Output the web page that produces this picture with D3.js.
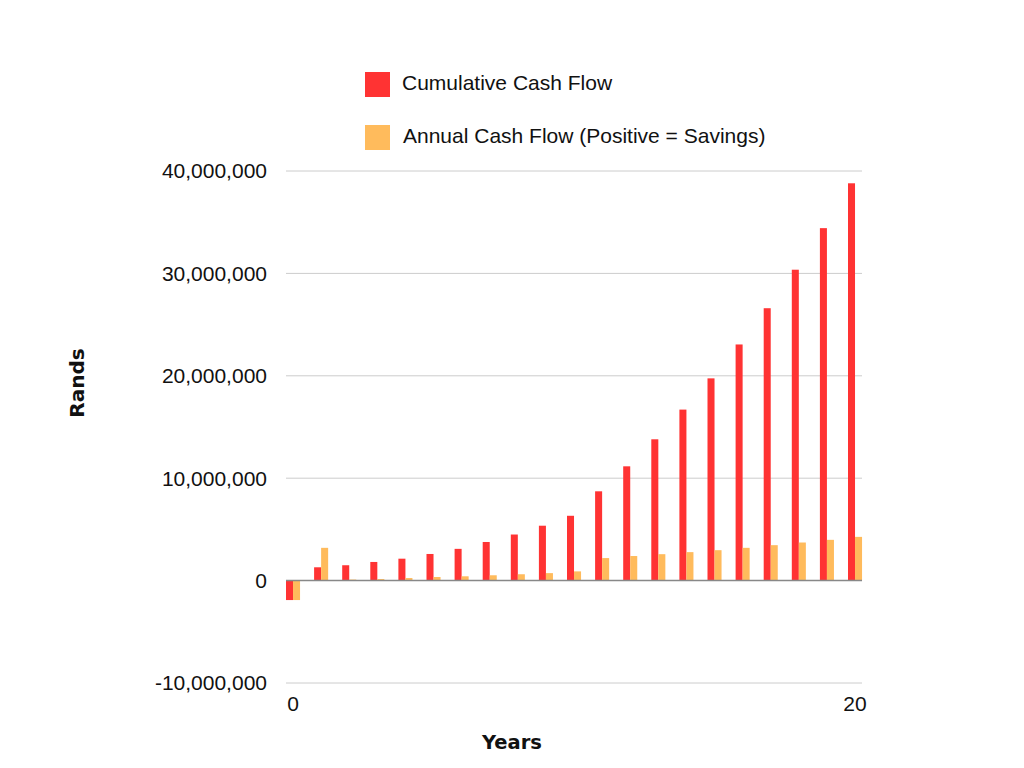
<!DOCTYPE html>
<html>
<head>
<meta charset="utf-8">
<script src="https://cdn.jsdelivr.net/npm/d3@7"></script>
<style>
  html, body { margin: 0; padding: 0; background: #fff; }
  svg { display: block; }
</style>
</head>
<body>
<svg id="chart" width="1024" height="768"></svg>
<script>
// ---- data ----
const years = [0,1,2,3,4,5,6,7,8,9,10,11,12,13,14,15,16,17,18,19,20];
const cumulative = [-1900000, 1300000, 1500000, 1820000, 2140000, 2600000, 3100000, 3770000, 4500000, 5360000, 6330000,
                    8720000, 11160000, 13800000, 16700000, 19750000, 23060000, 26600000, 30360000, 34420000, 38800000];
const annual = [-1900000, 3200000, 100000, 150000, 250000, 350000, 420000, 520000, 620000, 730000, 900000,
                2200000, 2400000, 2580000, 2780000, 2970000, 3200000, 3460000, 3720000, 3980000, 4270000];
const yTicks = [-10000000, 0, 10000000, 20000000, 30000000, 40000000];
const xTickLabels = [0, 20];
const seriesNames = ["Cumulative Cash Flow", "Annual Cash Flow (Positive = Savings)"];
const seriesColors = ["#ff3333", "#ffbb5c"];

// ---- layout ----
const svg = d3.select("#chart");
const plotLeft = 286, plotRight = 862, plotTop = 171, plotBottom = 683;

const x = d3.scaleBand().domain(years).range([plotLeft, plotLeft + 21 * 28.1]).padding(0);
const bw = x.bandwidth() * 0.25;
const y = d3.scaleLinear().domain([-10000000, 40000000]).range([plotBottom, plotTop]);

const fmt = d => d3.format(",")(d).replace("\u2212", "-");

// gridlines
svg.append("g").selectAll("line").data(yTicks.filter(d => d !== 0)).join("line")
  .attr("x1", plotLeft).attr("x2", plotRight)
  .attr("y1", d => y(d)).attr("y2", d => y(d))
  .attr("stroke", "#cccccc").attr("stroke-width", 1);

// y tick labels
svg.append("g").selectAll("text").data(yTicks).join("text")
  .attr("x", 267).attr("y", d => y(d)).attr("dy", "0.35em")
  .attr("text-anchor", "end")
  .attr("font-family", "'Liberation Sans', Arial, sans-serif")
  .attr("font-size", 21).attr("fill", "#111")
  .text(d => fmt(d));

// bars
const bars = svg.append("g");
bars.selectAll("rect.cum").data(years).join("rect")
  .attr("class", "cum")
  .attr("x", d => x(d)).attr("width", bw)
  .attr("y", (d, i) => y(Math.max(0, cumulative[i])))
  .attr("height", (d, i) => Math.abs(y(cumulative[i]) - y(0)))
  .attr("fill", seriesColors[0]);
bars.selectAll("rect.ann").data(years).join("rect")
  .attr("class", "ann")
  .attr("x", d => x(d) + bw).attr("width", bw)
  .attr("y", (d, i) => y(Math.max(0, annual[i])))
  .attr("height", (d, i) => Math.abs(y(annual[i]) - y(0)))
  .attr("fill", seriesColors[1]);

// zero line
svg.append("line")
  .attr("x1", plotLeft).attr("x2", plotRight)
  .attr("y1", y(0)).attr("y2", y(0))
  .attr("stroke", "#888888").attr("stroke-width", 1.5);

// x tick labels
svg.append("g").selectAll("text").data(xTickLabels).join("text")
  .attr("x", d => x(d) + bw).attr("y", 711)
  .attr("text-anchor", "middle")
  .attr("font-family", "'Liberation Sans', Arial, sans-serif")
  .attr("font-size", 21).attr("fill", "#111")
  .text(d => d);

// axis titles
svg.append("text")
  .attr("x", 512).attr("y", 749)
  .attr("text-anchor", "middle")
  .attr("font-family", "'DejaVu Sans', sans-serif")
  .attr("font-weight", "bold")
  .attr("font-size", 19.5).attr("fill", "#111")
  .text("Years");
svg.append("text")
  .attr("transform", "translate(84,383) rotate(-90)")
  .attr("text-anchor", "middle")
  .attr("font-family", "'DejaVu Sans', sans-serif")
  .attr("font-weight", "bold")
  .attr("font-size", 20).attr("fill", "#111")
  .text("Rands");

// legend
const legend = svg.append("g");
const legendY = [72, 125];
legend.selectAll("rect").data(seriesNames).join("rect")
  .attr("x", 365).attr("y", (d, i) => legendY[i])
  .attr("width", 25).attr("height", 25)
  .attr("fill", (d, i) => seriesColors[i]);
legend.selectAll("text").data(seriesNames).join("text")
  .attr("x", (d, i) => i === 0 ? 402 : 403)
  .attr("y", (d, i) => legendY[i] + 10.5).attr("dy", "0.35em")
  .attr("font-family", "'Liberation Sans', Arial, sans-serif")
  .attr("font-size", 21).attr("fill", "#111")
  .text(d => d);
</script>
</body>
</html>
